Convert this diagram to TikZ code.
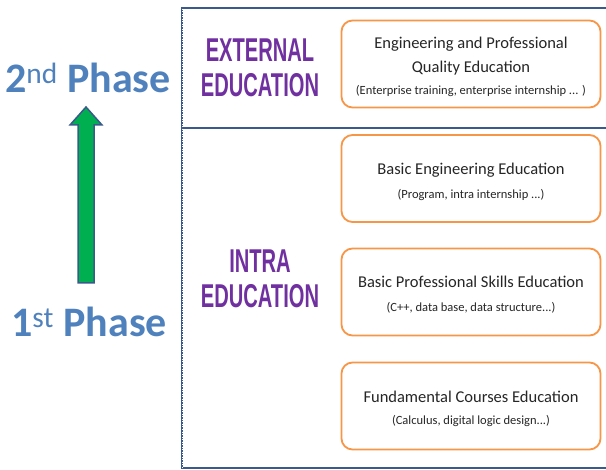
\documentclass[tikz,border=0pt]{standalone}
\usepackage{fontspec}
\setmainfont{Carlito}
\newfontfamily\headfont{Liberation Sans}
\definecolor{phaseblue}{HTML}{4F81BD}
\definecolor{purp}{HTML}{7030A0}
\definecolor{frameblue}{HTML}{3A5A8C}
\definecolor{boxorange}{HTML}{F79646}
\definecolor{arrowgreen}{HTML}{00B050}
\definecolor{txt}{HTML}{262626}
\tikzset{
  edubox/.style={draw=boxorange, line width=1.8pt, rounded corners=11pt, fill=white,
    minimum width=259pt, minimum height=87pt, inner sep=0pt},
  boxtext/.style={align=center, text=txt, inner sep=0pt, yshift=-3pt,
    font=\fontsize{16.5}{24}\selectfont},
  head/.style={text=purp, align=center, inner sep=0pt},
  phase/.style={text=phaseblue, inner sep=0pt, font=\fontsize{42}{42}\selectfont\bfseries},
  frame/.style={draw=frameblue, line width=2.8pt},
}
\newcommand{\subl}[1]{{\fontsize{12.5}{24}\selectfont #1}}
\newcommand{\hd}[1]{\scalebox{0.61}[1]{\headfont\bfseries\fontsize{33}{33}\selectfont #1}}
\begin{document}
\begin{tikzpicture}[x=1pt,y=-1pt]
\useasboundingbox (0,0) rectangle (606,470);
% frame
\coordinate (ftr) at (608,8);
\coordinate (ftl) at (182,8);
\coordinate (fbl) at (182,468);
\coordinate (fbr) at (608,468);
\coordinate (dl) at (182,128);
\coordinate (dr) at (608,128);
\draw[frame] (ftr) -- (ftl) -- (fbl) -- (fbr);
\draw[frame] (dl) -- (dr);
\draw[white, line width=0.5pt, dash pattern=on 1pt off 1.5pt] (182,9) -- (182,467);
% headings
\node[head] (ext1) at (260,50) {\hd{EXTERNAL}};
\node[head] (ext2) at (260,85) {\hd{EDUCATION}};
\node[head] (int1) at (260,261) {\hd{INTRA}};
\node[head] (int2) at (260,296) {\hd{EDUCATION}};
% boxes
\node[edubox] (b1) at (471,64) {};
\node[edubox] (b2) at (471,178.5) {};
\node[edubox] (b3) at (471,292) {};
\node[edubox] (b4) at (471,406) {};
\node[boxtext] (t1) at (b1.center) {Engineering and Professional\\ Quality Education\\[-2pt] \subl{(Enterprise training, enterprise internship ... )}};
\node[boxtext] (t2) at (b2.center) {Basic Engineering Education\\ \subl{(Program, intra internship ...)}};
\node[boxtext] (t3) at (b3.center) {Basic Professional Skills Education\\ \subl{(C++, data base, data structure...)}};
\node[boxtext] (t4) at (b4.center) {Fundamental Courses Education\\[-2pt] \subl{(Calculus, digital logic design...)}};
% phases
\node[phase] (p2) at (88,78) {2\textsuperscript{\mdseries nd} Phase};
\node[phase] (p1) at (89,322) {1\textsuperscript{\mdseries st} Phase};
% arrow
\draw[fill=arrowgreen, draw=frameblue, line width=1.5pt, line join=miter]
  (78,283) -- (78,125) -- (70,125) -- (86,107) -- (102,125) -- (94,125) -- (94,283) -- cycle;
\end{tikzpicture}
\end{document}
